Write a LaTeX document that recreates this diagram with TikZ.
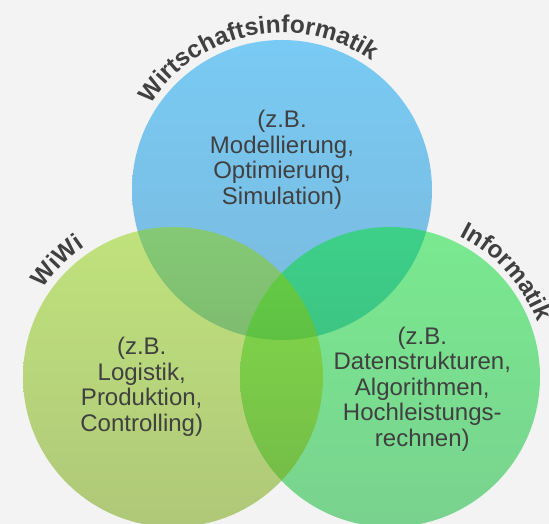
\documentclass[tikz,border=0pt]{standalone}
\usepackage{fontspec}
\setmainfont{Liberation Sans}
\usetikzlibrary{decorations.text}
\definecolor{bg}{RGB}{243,243,243}
\definecolor{txt}{RGB}{64,64,64}
\definecolor{blueTop}{RGB}{0,163,247}
\definecolor{blueBot}{RGB}{3,128,199}
\definecolor{leftTop}{RGB}{143,211,7}
\definecolor{leftBot}{RGB}{108,158,0}
\definecolor{rightTop}{RGB}{1,225,45}
\definecolor{rightBot}{RGB}{1,179,43}
\newcommand\labfont{\fontsize{24.5}{28}\selectfont\bfseries\color{txt}}
\begin{document}
\begin{tikzpicture}[x=1pt,y=1pt,
  body/.style={font=\fontsize{24}{25.5}\selectfont, text=txt, align=center, inner sep=0pt},
  ring/.style={fill opacity=0.5},
  curved/.style={decorate, decoration={text along path, text align=center, text={|\labfont|#1}}}]
\fill[bg] (0,0) rectangle (549,524);
\useasboundingbox (0,0) rectangle (549,524);
\coordinate (cb) at (282,334);
\coordinate (cl) at (173,147);
\coordinate (cr) at (390,147);
\begin{scope}
\clip (0,0) rectangle (549,524);
\shade[ring, top color=blueTop, bottom color=blueBot] (cb) circle (150pt);
\shade[ring, top color=rightTop, bottom color=rightBot] (cr) circle (150pt);
\shade[ring, top color=leftTop, bottom color=leftBot] (cl) circle (150pt);
\end{scope}
\node[body] (tb) at (282,364) {(z.B.\\Modellierung,\\Optimierung,\\Simulation)};
\node[body] (tl) at (141.7,137.3) {(z.B.\\Logistik,\\Produktion,\\Controlling)};
\node[body] (tr) at (422.3,134.8) {(z.B.\\Datenstrukturen,\\Algorithmen,\\Hochleistungs-\\rechnen)};
\path[curved=Wirtschaftsinformatik] ([shift={(161:157pt)}]cb) arc[start angle=161, end angle=41, radius=157pt];
\path[curved=WiWi] ([shift={(165:157pt)}]cl) arc[start angle=165, end angle=105, radius=157pt];
\path[curved=Informatik] ([shift={(82:157pt)}]cr) arc[start angle=82, end angle=2, radius=157pt];
\end{tikzpicture}
\end{document}
